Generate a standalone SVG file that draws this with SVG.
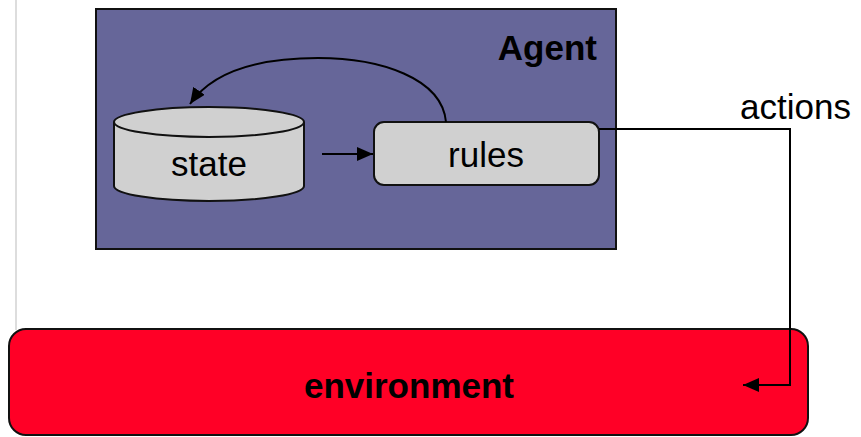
<svg xmlns="http://www.w3.org/2000/svg" width="861" height="437" viewBox="0 0 861 437">
<style>
text{font-family:"Liberation Sans",Arial,sans-serif;fill:#000}
.n{font-size:35px}
.b{font-size:35px;font-weight:bold}
.shape{stroke:#111;stroke-width:2}
.conn{fill:none;stroke:#000;stroke-width:2}
</style>
<defs>
<marker id="ah" viewBox="0 0 16 14" refX="16" refY="7" markerWidth="16" markerHeight="14" markerUnits="userSpaceOnUse" orient="auto">
<path d="M0,0 L16,7 L0,14 z" fill="#000"/>
</marker>
</defs>
<line x1="16" y1="0" x2="16" y2="330" stroke="#dddddd" stroke-width="2"/>
<g id="agent">
<rect class="shape" x="96" y="9" width="520" height="240" fill="#666699"/>
<text class="b" x="597" y="60" text-anchor="end">Agent</text>
</g>
<g id="state">
<path class="shape" d="M114,122 V186 A95,15 0 0 0 304,186 V122 A95,15 0 0 0 114,122 Z" fill="#d0d0d0"/>
<path class="shape" d="M114,122 A95,15 0 0 0 304,122" fill="none"/>
<text class="n" x="209" y="176" text-anchor="middle">state</text>
</g>
<g id="rules">
<rect class="shape" x="374" y="122" width="225" height="63" rx="10" fill="#d0d0d0"/>
<text class="n" x="486" y="167" text-anchor="middle">rules</text>
</g>
<g id="environment">
<rect class="shape" x="9" y="329" width="799" height="106" rx="17" fill="#ff0026"/>
<text class="b" x="409" y="398" text-anchor="middle">environment</text>
</g>
<g id="connectors">
<line class="conn" x1="322" y1="154" x2="373" y2="154" marker-end="url(#ah)"/>
<path class="conn" d="M446,122 C442,78 380,58 318,58 C258,58 212,72 190,104" marker-end="url(#ah)"/>
<path class="conn" d="M599,129 H790 V385 H743" marker-end="url(#ah)"/>
<text class="n" x="740" y="119">actions</text>
</g>
</svg>
